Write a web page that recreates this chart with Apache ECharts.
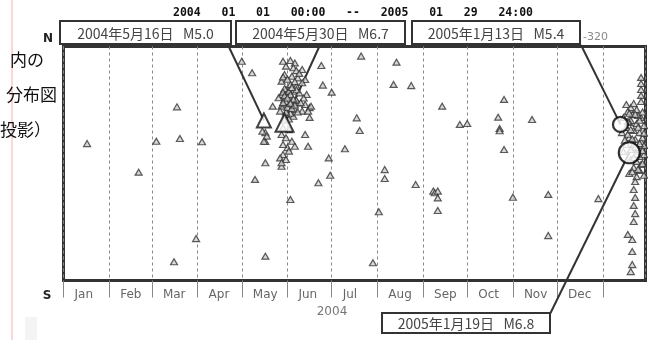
<!DOCTYPE html>
<html>
<head>
<meta charset="utf-8">
<script src="https://cdn.jsdelivr.net/npm/echarts@6/dist/echarts.min.js"></script>
<style>
html, body { margin: 0; padding: 0; background: #fff; }
#main { width: 648px; height: 340px; }
</style>
</head>
<body>
<div id="main"></div>
<script>
// x axis: 2004-01-01 00:00 .. 2005-01-29 24:00, month labels for 2004
var periodStart = '2004-01-01';
var periodEnd = '2005-01-30';
var monthLabels = ['Jan', 'Feb', 'Mar', 'Apr', 'May', 'Jun', 'Jul', 'Aug', 'Sep', 'Oct', 'Nov', 'Dec'];

// events: [date, N-S position (0 = S edge, 100 = N edge)]
var eventsScattered = [
  ['2004-01-17', 58.5], ['2004-02-21', 46.3], ['2004-03-04', 59.5], ['2004-03-16', 8.0],
  ['2004-03-18', 74.2], ['2004-03-20', 60.7], ['2004-03-31', 17.9], ['2004-04-04', 59.3],
  ['2004-05-01', 93.7], ['2004-05-08', 88.8], ['2004-05-10', 43.2], ['2004-05-17', 63.2],
  ['2004-05-17', 59.4], ['2004-05-17', 50.3], ['2004-05-17', 10.4], ['2004-05-28', 48.8],
  ['2004-05-29', 53.8], ['2004-06-01', 56.8], ['2004-06-03', 34.6], ['2004-06-13', 62.4],
  ['2004-06-15', 57.4], ['2004-06-16', 73.9], ['2004-06-16', 69.7], ['2004-06-22', 41.8],
  ['2004-06-24', 91.9], ['2004-06-25', 83.5], ['2004-06-29', 52.4], ['2004-06-30', 45.0],
  ['2004-07-01', 80.5], ['2004-07-10', 56.3], ['2004-07-18', 69.5], ['2004-07-20', 64.1],
  ['2004-07-21', 95.9], ['2004-07-29', 7.6], ['2004-08-02', 29.4], ['2004-08-06', 47.4],
  ['2004-08-06', 43.6], ['2004-08-12', 83.8], ['2004-08-14', 93.3], ['2004-08-24', 83.3],
  ['2004-08-27', 41.0], ['2004-09-08', 38.2], ['2004-09-09', 37.5], ['2004-09-11', 38.2],
  ['2004-09-11', 35.3], ['2004-09-11', 29.9], ['2004-09-14', 74.5], ['2004-09-26', 66.7],
  ['2004-10-01', 67.1], ['2004-10-22', 69.8], ['2004-10-23', 65.0], ['2004-10-23', 64.0],
  ['2004-10-26', 77.4], ['2004-10-26', 56.0], ['2004-11-01', 35.6], ['2004-11-14', 68.8],
  ['2004-11-25', 36.8], ['2004-11-25', 19.2], ['2004-12-29', 35.0]
];
var swarmJune = [
  ['2004-05-29', 93.7], ['2004-06-03', 94.0], ['2004-06-06', 93.0], ['2004-05-31', 91.6],
  ['2004-06-05', 90.9], ['2004-06-07', 89.7], ['2004-06-11', 90.2], ['2004-05-30', 88.0],
  ['2004-06-04', 87.3], ['2004-06-08', 86.6], ['2004-06-13', 85.9], ['2004-05-28', 85.2],
  ['2004-06-03', 83.8], ['2004-06-07', 83.0], ['2004-06-11', 84.5], ['2004-05-31', 81.6],
  ['2004-06-05', 80.9], ['2004-06-09', 80.2], ['2004-06-14', 79.5], ['2004-05-28', 79.5],
  ['2004-05-26', 78.1], ['2004-05-30', 77.4], ['2004-06-04', 76.6], ['2004-06-08', 75.9],
  ['2004-06-13', 75.2], ['2004-06-17', 74.5], ['2004-05-28', 74.5], ['2004-06-02', 73.8],
  ['2004-06-06', 73.1], ['2004-06-11', 72.4], ['2004-06-15', 72.4], ['2004-05-27', 72.4],
  ['2004-05-31', 70.9], ['2004-06-05', 70.2], ['2004-05-22', 74.5], ['2004-05-30', 82.0],
  ['2004-06-02', 78.8], ['2004-06-07', 77.0], ['2004-05-30', 75.5], ['2004-06-03', 71.5],
  ['2004-06-07', 81.5], ['2004-06-12', 78.0], ['2004-05-29', 87.0], ['2004-06-06', 85.0],
  ['2004-06-01', 86.0], ['2004-06-09', 88.5], ['2004-05-31', 72.0],
  ['2004-05-29', 80.5], ['2004-05-30', 79.0], ['2004-05-31', 76.5], ['2004-06-01', 74.0],
  ['2004-06-02', 81.0], ['2004-06-03', 79.5], ['2004-06-04', 73.5], ['2004-06-05', 77.5],
  ['2004-06-06', 75.0], ['2004-06-01', 78.0], ['2004-06-03', 75.8], ['2004-05-29', 76.0],
  ['2004-06-08', 72.0], ['2004-06-10', 76.0], ['2004-06-04', 82.5], ['2004-06-02', 69.0],
  ['2004-05-30', 68.5],
  ['2004-05-29', 65.3], ['2004-06-02', 64.5], ['2004-05-28', 62.4], ['2004-05-31', 61.0],
  ['2004-06-04', 59.5], ['2004-05-29', 58.1], ['2004-06-02', 55.3], ['2004-06-06', 57.4],
  ['2004-05-27', 52.4], ['2004-05-31', 51.7], ['2004-05-28', 50.3], ['2004-05-15', 63.8],
  ['2004-05-18', 61.7], ['2004-05-16', 59.5]
];
var swarmJan = [
  ['2005-01-27', 86.8], ['2005-01-27', 84.2], ['2005-01-27', 81.6], ['2005-01-27', 79.1],
  ['2005-01-27', 76.5], ['2005-01-17', 75.2], ['2005-01-20', 73.9], ['2005-01-22', 75.6],
  ['2005-01-18', 72.2], ['2005-01-21', 70.9], ['2005-01-24', 73.1], ['2005-01-27', 69.7],
  ['2005-01-15', 69.7], ['2005-01-20', 68.4], ['2005-01-24', 67.1], ['2005-01-29', 66.2],
  ['2005-01-17', 65.4], ['2005-01-22', 64.1], ['2005-01-26', 63.2], ['2005-01-14', 63.2],
  ['2005-01-19', 61.1], ['2005-01-23', 60.3], ['2005-01-27', 59.4], ['2005-01-29', 57.7],
  ['2005-01-21', 56.8], ['2005-01-25', 56.0], ['2005-01-29', 53.8], ['2005-01-20', 51.7],
  ['2005-01-24', 50.9], ['2005-01-27', 49.6], ['2005-01-22', 48.3], ['2005-01-26', 47.0],
  ['2005-01-19', 45.7], ['2005-01-24', 44.4], ['2005-01-17', 58.1], ['2005-01-15', 55.1],
  ['2005-01-18', 62.5], ['2005-01-22', 58.0], ['2005-01-26', 53.0], ['2005-01-28', 61.0],
  ['2005-01-19', 67.5], ['2005-01-25', 70.5], ['2005-01-16', 60.0], ['2005-01-28', 72.0],
  ['2005-01-18', 68.0], ['2005-01-20', 64.5], ['2005-01-21', 60.5], ['2005-01-23', 57.0],
  ['2005-01-25', 65.5], ['2005-01-26', 58.5], ['2005-01-28', 55.5], ['2005-01-24', 54.0],
  ['2005-01-20', 56.0], ['2005-01-22', 52.5], ['2005-01-28', 50.0], ['2005-01-25', 47.5],
  ['2005-01-21', 46.5], ['2005-01-29', 63.0], ['2005-01-23', 71.0], ['2005-01-19', 71.5],
  ['2005-01-26', 68.5], ['2005-01-29', 45.0],
  ['2005-01-23', 42.3], ['2005-01-22', 38.9], ['2005-01-23', 35.5], ['2005-01-22', 32.1],
  ['2005-01-23', 28.6], ['2005-01-22', 25.2], ['2005-01-18', 19.7], ['2005-01-21', 17.5],
  ['2005-01-21', 12.4], ['2005-01-21', 6.8], ['2005-01-20', 3.8]
];

// main shocks
var mainDates = ['2004-05-16', '2004-05-30', '2005-01-13', '2005-01-19'];
var mainLats = [68.4, 67.4, 66.7, 54.6];
var mainLabels = ['2004年5月16日   M5.0', '2004年5月30日   M6.7', '2005年1月13日   M5.4', '2005年1月19日   M6.8'];

var chart = echarts.init(document.getElementById('main'));
var DAY = 86400000;

var option = {
  animation: false,
  backgroundColor: '#fff',
  grid: {
    left: 63.5, right: 2.5, top: 46.5, bottom: 59.5,
    show: true, borderColor: '#333', borderWidth: 3,
    outerBoundsMode: 'none'
  },
  xAxis: {
    type: 'time',
    min: new Date(periodStart + 'T00:00:00').getTime(),
    max: new Date(periodEnd + 'T00:00:00').getTime(),
    splitNumber: 13,
    minInterval: 28 * DAY,
    maxInterval: 32 * DAY,
    axisLine: { show: false },
    axisTick: { show: true, length: 17, lineStyle: { color: '#888', width: 1 } },
    axisLabel: {
      margin: 8,
      align: 'left',
      padding: [0, 0, 0, 11],
      color: '#666',
      fontFamily: 'DejaVu Sans',
      fontSize: 12,
      hideOverlap: false,
      formatter: function (value) {
        var d = new Date(value);
        return d.getFullYear() === 2004 ? monthLabels[d.getMonth()] : '';
      }
    },
    splitLine: { show: true, lineStyle: { color: '#888', width: 1, type: [3, 3] } }
  },
  yAxis: {
    type: 'value', min: 0, max: 100,
    axisLine: { show: false }, axisTick: { show: false },
    axisLabel: { show: false }, splitLine: { show: false }
  },
  series: [
    {
      type: 'scatter',
      symbol: 'triangle',
      symbolSize: [7, 6],
      itemStyle: { color: '#d0d0d0', borderColor: '#333', borderWidth: 1.2 },
      data: eventsScattered.concat(swarmJune, swarmJan),
      z: 2
    },
    {
      type: 'scatter',
      symbol: 'emptyTriangle',
      symbolSize: function (v, p) { return p.dataIndex === 0 ? 14 : 18; },
      itemStyle: { color: '#111', borderWidth: 2.5 },
      data: [[mainDates[0], mainLats[0]], [mainDates[1], mainLats[1]]],
      z: 4
    },
    {
      type: 'scatter',
      symbol: 'circle',
      symbolSize: function (v, p) { return p.dataIndex === 0 ? 15 : 21; },
      itemStyle: { color: '#fff', borderColor: '#000', borderWidth: 2.2 },
      data: [[mainDates[2], mainLats[2]], [mainDates[3], mainLats[3]]],
      z: 4
    }
  ]
};
chart.setOption(option);

// annotation boxes and leader lines
var boxes = [
  { x: 60, y: 21, w: 171, h: 23, from: [228, 45] },
  { x: 236, y: 21, w: 169, h: 23, from: [320, 45] },
  { x: 412, y: 21, w: 168, h: 23, from: [581, 45] },
  { x: 382, y: 313, w: 168, h: 20, from: [550, 314] }
];
var graphics = [];
boxes.forEach(function (b, i) {
  var p = chart.convertToPixel({ gridIndex: 0 }, [mainDates[i], mainLats[i]]);
  graphics.push({
    type: 'line', z: 1,
    shape: { x1: b.from[0], y1: b.from[1], x2: p[0], y2: p[1] },
    style: { stroke: '#333', lineWidth: 2 }
  });
  graphics.push({
    type: 'rect', z: 10,
    shape: { x: b.x, y: b.y, width: b.w, height: b.h },
    style: { fill: '#fff', stroke: '#333', lineWidth: 2 }
  });
  graphics.push({
    type: 'text', z: 11,
    style: {
      text: mainLabels[i], x: b.x + b.w / 2, y: b.y + b.h / 2 + 1,
      align: 'center', verticalAlign: 'middle',
      font: '14px "Noto Sans CJK JP"', fill: '#444'
    }
  });
});

graphics.push(
  { type: 'rect', z: 0, shape: { x: 25, y: 317, width: 12, height: 23 }, style: { fill: '#f4f4f4' } },
  { type: 'line', z: 0, shape: { x1: 12, y1: 0, x2: 12, y2: 340 }, style: { stroke: '#ffd6d6', lineWidth: 2 } },
  { type: 'text', style: { text: '2004   01   01   00:00   --   2005   01   29   24:00', x: 353, y: 13,
      align: 'center', verticalAlign: 'middle', font: 'bold 11.5px "DejaVu Sans Mono"', fill: '#111' } },
  { type: 'text', z: 11, style: { text: '-320', x: 583, y: 37, align: 'left', verticalAlign: 'middle',
      font: '11px "DejaVu Sans"', fill: '#888' } },
  { type: 'text', style: { text: 'N', x: 48, y: 39, align: 'center', verticalAlign: 'middle',
      font: 'bold 12px "DejaVu Sans"', fill: '#222' } },
  { type: 'text', style: { text: 'S', x: 47, y: 296, align: 'center', verticalAlign: 'middle',
      font: 'bold 12px "DejaVu Sans"', fill: '#222' } },
  { type: 'text', style: { text: '2004', x: 332, y: 312, align: 'center', verticalAlign: 'middle',
      font: '12px "DejaVu Sans"', fill: '#777' } },
  { type: 'text', style: { text: '内の', x: 44, y: 60, align: 'right', verticalAlign: 'middle',
      font: '17px "Noto Sans CJK JP"', fill: '#111' } },
  { type: 'text', style: { text: '分布図', x: 57, y: 95, align: 'right', verticalAlign: 'middle',
      font: '17px "Noto Sans CJK JP"', fill: '#111' } },
  { type: 'text', style: { text: '投影）', x: 51, y: 130, align: 'right', verticalAlign: 'middle',
      font: '17px "Noto Sans CJK JP"', fill: '#111' } }
);
chart.setOption({ graphic: graphics });
</script>
</body>
</html>
